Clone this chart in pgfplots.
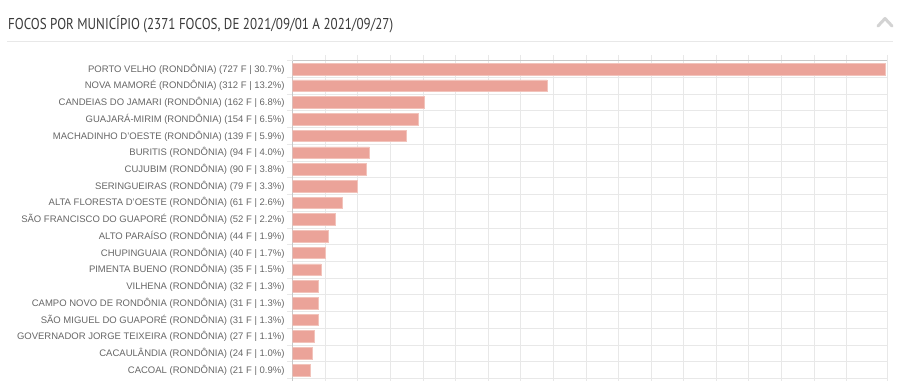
\documentclass[border=0pt]{standalone}
\usepackage{pgfplots}
\pgfplotsset{compat=1.18}
\usepackage{fontspec}
\setmainfont{Liberation Sans}
\newfontfamily\titlefont{PT Sans}
\definecolor{barc}{HTML}{EBA399}
\definecolor{barb}{HTML}{F2C3BB}
\definecolor{gridc}{HTML}{E8E8E8}
\definecolor{axc}{HTML}{C8C8C8}
\definecolor{labc}{HTML}{666666}
\definecolor{titc}{HTML}{3A3A3A}
\begin{document}
\begin{tikzpicture}[x=1pt,y=1pt]
\useasboundingbox (0,0) rectangle (900,381);
% title
\node[anchor=base west, inner sep=0pt, text=titc] at (8,351.7)
  {\resizebox{385pt}{\height}{\titlefont\fontsize{15.7}{18}\selectfont FOCOS POR MUNICÍPIO (2371 FOCOS, DE 2021/09/01 A 2021/09/27)}};
\draw[gridc, line width=0.8pt] (7,340) -- (893,340);
\draw[axc!80!white, line width=3pt, line cap=round, line join=round] (878,355) -- (885,362.5) -- (892,355);
\begin{axis}[
  at={(292.7pt,0pt)}, anchor=south west,
  width=594.6pt, height=320.3pt, scale only axis,
  xmin=0, xmax=730,
  ymin=-0.5, ymax=18.657, y dir=reverse,
  axis y line*=left, axis x line*=top,
  axis line style={draw=axc, line width=0.8pt},
  xtick={0,40,...,680,730}, xticklabels={},
  ytick={-0.5,0.5,...,18.5},
  grid=major,
  major grid style={draw=gridc, line width=0.8pt},
  tick style={draw=gridc, line width=0.8pt},
  tick align=outside,
  major tick length=5.5pt,
  yticklabels={
    {PORTO VELHO (RONDÔNIA) (727 F | 30.7\%)},
    {NOVA MAMORÉ (RONDÔNIA) (312 F | 13.2\%)},
    {CANDEIAS DO JAMARI (RONDÔNIA) (162 F | 6.8\%)},
    {GUAJARÁ-MIRIM (RONDÔNIA) (154 F | 6.5\%)},
    {MACHADINHO D'OESTE (RONDÔNIA) (139 F | 5.9\%)},
    {BURITIS (RONDÔNIA) (94 F | 4.0\%)},
    {CUJUBIM (RONDÔNIA) (90 F | 3.8\%)},
    {SERINGUEIRAS (RONDÔNIA) (79 F | 3.3\%)},
    {ALTA FLORESTA D'OESTE (RONDÔNIA) (61 F | 2.6\%)},
    {SÃO FRANCISCO DO GUAPORÉ (RONDÔNIA) (52 F | 2.2\%)},
    {ALTO PARAÍSO (RONDÔNIA) (44 F | 1.9\%)},
    {CHUPINGUAIA (RONDÔNIA) (40 F | 1.7\%)},
    {PIMENTA BUENO (RONDÔNIA) (35 F | 1.5\%)},
    {VILHENA (RONDÔNIA) (32 F | 1.3\%)},
    {CAMPO NOVO DE RONDÔNIA (RONDÔNIA) (31 F | 1.3\%)},
    {SÃO MIGUEL DO GUAPORÉ (RONDÔNIA) (31 F | 1.3\%)},
    {GOVERNADOR JORGE TEIXEIRA (RONDÔNIA) (27 F | 1.1\%)},
    {CACAULÂNDIA (RONDÔNIA) (24 F | 1.0\%)},
    {CACOAL (RONDÔNIA) (21 F | 0.9\%)},
    {}},
  yticklabel style={font=\fontsize{9.5}{11}\selectfont, text=labc, anchor=east, inner sep=0pt, xshift=-2.5pt, yshift=-8.36pt},
]
\addplot[xbar, bar width=11.6pt, fill=barc, draw=barb, line width=0.6pt] coordinates {
  (727,0) (312,1) (162,2) (154,3) (139,4) (94,5) (90,6) (79,7) (61,8) (52,9)
  (44,10) (40,11) (35,12) (32,13) (31,14) (31,15) (27,16) (24,17) (21,18)
};
\end{axis}
\end{tikzpicture}
\end{document}
